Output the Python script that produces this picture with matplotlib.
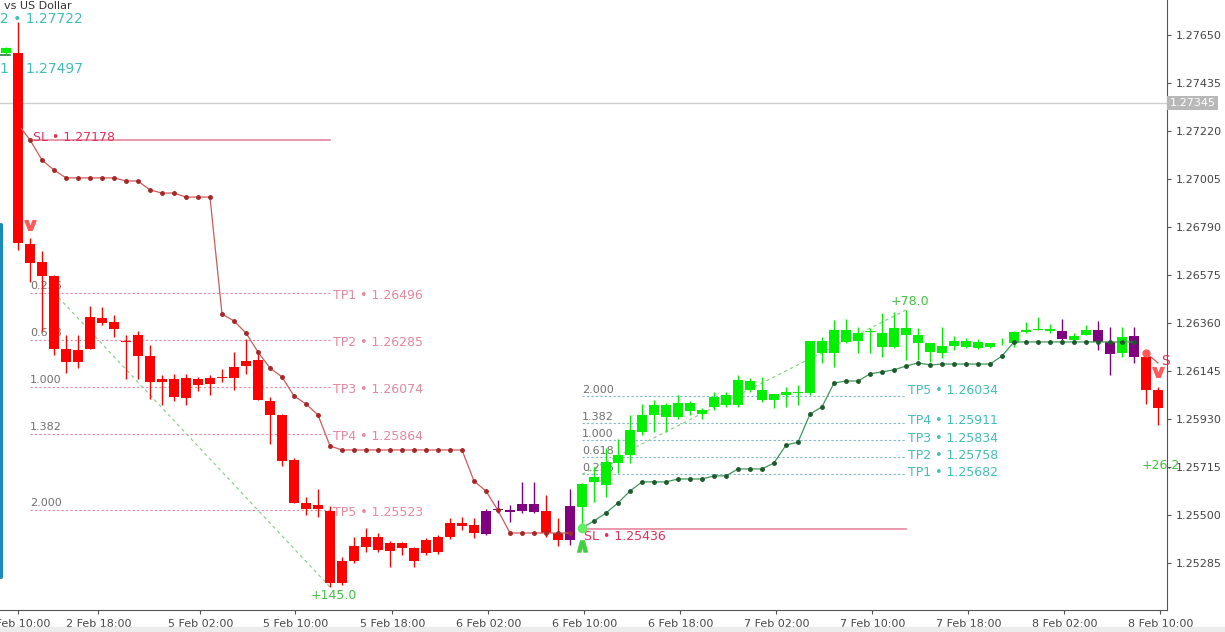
import matplotlib
matplotlib.use("Agg")
import matplotlib.pyplot as plt
import numpy as np

# ---- data ----
idx = list(range(-1, 96))
opens = [1.27570,1.27570,1.26714,1.26633,1.26571,1.26243,1.26239,1.26387,1.26382,1.26364,1.26279,1.26306,1.26212,1.26109,1.26109,1.26114,1.26109,1.26114,1.26118,1.26163,1.26190,1.26194,1.26011,1.25948,1.25746,1.25554,1.25545,1.25518,
         1.25195,1.25294,1.25356,1.25401,1.25374,1.25374,1.25352,1.25330,1.25334,1.25401,1.25450,1.25455,1.25415,1.25527,1.25522,1.25518,1.25549,1.25518,1.25419,1.25388,1.25536,1.25648,1.25634,1.25733,1.25769,1.25872,1.25948,1.25939,1.25939,1.25966,1.25952,1.25984,1.25993,1.25993,1.26060,1.26060,1.26042,1.26037,1.26046,1.26046,1.26226,1.26226,1.26275,1.26315,1.26320,1.26252,1.26252,1.26306,1.26270,1.26230,1.26226,1.26257,1.26252,1.26248,1.26252,1.26270,1.26270,1.26320,1.26329,1.26324,1.26324,1.26284,1.26306,1.26329,1.26275,1.26226,1.26302,1.26208,1.26060]
highs = [1.27596,1.27710,1.26741,1.26683,1.26575,1.26306,1.26306,1.26436,1.26432,1.26396,1.26306,1.26324,1.26261,1.26127,1.26132,1.26132,1.26118,1.26127,1.26154,1.26230,1.26288,1.26235,1.26029,1.25950,1.25755,1.25580,1.25616,1.25540,
         1.25312,1.25401,1.25442,1.25419,1.25383,1.25379,1.25356,1.25397,1.25410,1.25486,1.25491,1.25486,1.25527,1.25567,1.25545,1.25648,1.25648,1.25589,1.25486,1.25616,1.25643,1.25715,1.25800,1.25840,1.25948,1.25997,1.26015,1.26002,1.26037,1.26011,1.25979,1.26051,1.26051,1.26127,1.26114,1.26118,1.26042,1.26073,1.26082,1.26281,1.26297,1.26373,1.26378,1.26342,1.26338,1.26405,1.26409,1.26418,1.26338,1.26272,1.26342,1.26302,1.26293,1.26288,1.26272,1.26293,1.26322,1.26364,1.26387,1.26355,1.26378,1.26315,1.26351,1.26369,1.26342,1.26342,1.26342,1.26226,1.26073]
lows = [1.27565,1.26687,1.26544,1.26324,1.26217,1.26136,1.26158,1.26243,1.26351,1.26297,1.26109,1.26109,1.26019,1.25993,1.26011,1.25993,1.26055,1.26037,1.26096,1.26060,1.26132,1.26015,1.25818,1.25719,1.25554,1.25500,1.25491,1.25177,
         1.25186,1.25285,1.25334,1.25334,1.25267,1.25321,1.25267,1.25321,1.25325,1.25392,1.25433,1.25397,1.25410,1.25509,1.25468,1.25509,1.25509,1.25401,1.25361,1.25365,1.25442,1.25558,1.25580,1.25688,1.25733,1.25858,1.25872,1.25872,1.25930,1.25948,1.25930,1.25970,1.25984,1.25984,1.26051,1.26006,1.25979,1.25984,1.25993,1.26037,1.26181,1.26163,1.26270,1.26226,1.26226,1.26208,1.26250,1.26194,1.26194,1.26185,1.26203,1.26239,1.26248,1.26243,1.26248,1.26261,1.26252,1.26315,1.26329,1.26315,1.26284,1.26279,1.26304,1.26239,1.26127,1.26208,1.26181,1.25997,1.25903]
closes = [1.27592,1.26718,1.26629,1.26571,1.26243,1.26185,1.26185,1.26243,1.26360,1.26333,1.26275,1.26212,1.26096,1.26096,1.26029,1.26024,1.26082,1.26087,1.26114,1.26114,1.26167,1.26015,1.25948,1.25742,1.25554,1.25527,1.25527,1.25195,
         1.25294,1.25361,1.25401,1.25343,1.25338,1.25352,1.25294,1.25388,1.25401,1.25464,1.25464,1.25419,1.25518,1.25522,1.25513,1.25549,1.25513,1.25419,1.25388,1.25540,1.25639,1.25670,1.25737,1.25769,1.25881,1.25948,1.25993,1.25993,1.26002,1.26002,1.25970,1.26029,1.26037,1.26105,1.26100,1.26015,1.26015,1.26051,1.26051,1.26279,1.26279,1.26329,1.26329,1.26279,1.26322,1.26315,1.26338,1.26338,1.26306,1.26270,1.26257,1.26279,1.26279,1.26275,1.26270,1.26272,1.26320,1.26329,1.26333,1.26333,1.26288,1.26302,1.26329,1.26275,1.26221,1.26297,1.26208,1.26060,1.25979]
trend = ["g"] + ["r"]*39 + ["p"]*5 + ["r"]*2 + ["p"] + ["g"]*40 + ["p","g","g","p","p","g","p","r","r"]

sell_trail_idx = list(range(1, 47))
sell_trail = [1.27180,1.27090,1.27045,1.27010,1.27010,1.27010,1.27010,1.27010,1.26996,1.26996,1.26956,1.26942,1.26942,1.26924,1.26924,1.26924,
              1.26400,1.26369,1.26315,1.26230,1.26158,1.26118,1.26033,1.25997,1.25948,1.25809,1.25791,1.25791,1.25791,1.25791,1.25791,1.25791,
              1.25791,1.25791,1.25791,1.25791,1.25791,1.25652,1.25607,1.25520,1.25419,1.25419,1.25419,1.25419,1.25419,1.25419]
buy_trail_idx = list(range(47, 94))
buy_trail = [1.25442,1.25473,1.25509,1.25554,1.25607,1.25648,1.25648,1.25648,1.25661,1.25661,1.25661,1.25675,1.25675,1.25706,1.25706,1.25706,
             1.25733,1.25813,1.25826,1.25952,1.25984,1.26091,1.26100,1.26100,1.26132,1.26141,1.26150,1.26167,1.26181,1.26172,1.26176,1.26176,
             1.26176,1.26176,1.26176,1.26212,1.26275,1.26275,1.26275,1.26275,1.26275,1.26275,1.26275,1.26275,1.26275,1.26275,1.26275]

fib_ratios = ["0.236", "0.618", "1.000", "1.382", "2.000"]
sell_tp = [1.26496, 1.26285, 1.26074, 1.25864, 1.25523]
sell_sl = 1.27178
buy_tp = [1.25682, 1.25758, 1.25834, 1.25911, 1.26034]
buy_sl = 1.25436
current_price = 1.27345
yticks = [1.27650,1.27435,1.27220,1.27005,1.26790,1.26575,1.26360,1.26145,1.25930,1.25715,1.25500,1.25285]
xtick_pos = [0, 6.7, 15.2, 23.1, 31.2, 39.2, 47.2, 55.2, 63.2, 71.2, 79.2, 87.2, 95.2]
xtick_lab = ["2 Feb 10:00","2 Feb 18:00","5 Feb 02:00","5 Feb 10:00","5 Feb 18:00","6 Feb 02:00",
             "6 Feb 10:00","6 Feb 18:00","7 Feb 02:00","7 Feb 10:00","7 Feb 18:00","8 Feb 02:00","8 Feb 10:00"]

# ---- plot ----
fig = plt.figure(figsize=(12.25, 6.32), dpi=100)
ax = fig.add_axes([0.0, 0.0348, 1167/1225, 1 - 0.0348])
ax.set_xlim(-1.5, 95.75)
ax.set_ylim(1.25074, 1.27807)

cmap = {"r": "#ff0000", "g": "#00f000", "p": "#800080"}
for i, o, h, l, c, t in zip(idx, opens, highs, lows, closes, trend):
    col = cmap[t]
    ax.vlines(i, l, h, color=col, lw=1.0, zorder=4)
    b = min(o, c); ht = max(abs(c - o), 0.000025)
    ax.bar(i, ht, bottom=b, width=0.78, color=col, zorder=5, lw=0)

pink = "#e8869e"; crim = "#e0305a"; teal = "#3fbfb5"; gray = "#6f6f6f"
# current price
ax.axhline(current_price, color="#cfcfcf", lw=1, zorder=1)
ax.text(95.95, current_price, "1.27345", transform=ax.transData, fontsize=8, color="white",
        va="center", ha="left", bbox=dict(fc="#b8b8b8", ec="none", pad=1.5), clip_on=False)

# sell setup
for r, tp in zip(fib_ratios, sell_tp):
    ax.plot([1, 26], [tp, tp], ls=(0, (2, 2)), color=pink, lw=0.8, zorder=2)
    ax.text(1, tp + 0.00007, r, fontsize=8, color=gray, va="bottom", zorder=3)
for k, tp in enumerate(sell_tp):
    ax.text(26.25, tp - 0.00012, f"TP{k+1} • {tp:.5f}", fontsize=9, color=pink, va="center", zorder=3)
ax.plot([1, 26], [sell_sl, sell_sl], color=pink, lw=1.2, zorder=2)
ax.text(1.25, sell_sl + 0.00012, f"SL • {sell_sl:.5f}", fontsize=9, color=crim, va="center", zorder=6)
ax.plot([3, 26], [sell_tp[0], lows[27]], ls=(0, (3, 3)), color="#7fd07f", lw=0.8, zorder=2)
ax.text(24.4, 1.25140, "+145.0", fontsize=9, color="#40c040", va="center")
ax.plot([0.3] + sell_trail_idx, [1.27230] + sell_trail, color="#cf5a5a", lw=0.9, zorder=6)
ax.plot(sell_trail_idx, sell_trail, "o", color="#a42828", ms=2.5, zorder=7)
ax.plot(1, 1.26800, marker=r"$\mathbf{v}$", color="#ff5a5a", ms=8, zorder=7)

# buy setup
for r, tp in zip(fib_ratios, buy_tp):
    ax.plot([47, 74], [tp, tp], ls=(0, (2, 2)), color="#7fb8c8", lw=0.8, zorder=2)
    ax.text(47, tp + 0.00005, r, fontsize=8, color=gray, va="bottom", zorder=3)
for k, tp in enumerate(buy_tp):
    off = 0.00025 if k == 4 else 0.00010
    ax.text(74.2, tp + off, f"TP{k+1} • {tp:.5f}", fontsize=9, color=teal, va="center", zorder=3)
ax.plot([47, 74], [buy_sl, buy_sl], color=pink, lw=1.2, zorder=2)
ax.text(47.2, buy_sl - 0.00032, f"SL • {buy_sl:.5f}", fontsize=9, color=crim, va="center", zorder=6)
ax.plot([47, 74], [buy_tp[0], 1.26418], ls=(0, (3, 3)), color="#7fd07f", lw=0.8, zorder=2)
ax.text(72.7, 1.26455, "+78.0", fontsize=9, color="#40c040", va="center")
ax.plot(buy_trail_idx, buy_trail, color="#3f9a5a", lw=0.9, zorder=6)
ax.plot(buy_trail_idx, buy_trail, "o", color="#1d5a2d", ms=2.5, zorder=7)
ax.plot(47, buy_sl + 0.00006, "o", color="#60f060", ms=6, zorder=7)
ax.plot(47, 1.25363, marker=r"$\mathbf{\wedge}$", color="#40d040", ms=8, zorder=7)

# last sell start
ax.plot([94, 95], [1.26226, 1.26181], color="#cf5a5a", lw=0.9, zorder=6)
ax.plot(94, 1.26226, "o", color="#ff5a5a", ms=5, zorder=7)
ax.plot(95, 1.26140, marker=r"$\mathbf{v}$", color="#ff5a5a", ms=8, zorder=7)
ax.text(95.3, 1.26190, "S", fontsize=10, color=crim, va="center")
ax.text(93.6, 1.25720, "+26.2", fontsize=9, color="#40c040", va="center")

# top-left texts
ax.text(0.003, 0.999, "vs US Dollar", transform=ax.transAxes, fontsize=8, color="#333333", va="top")
ax.text(-1.5, 1.27722, "2 • 1.27722", fontsize=10, color=teal, va="center")
ax.text(-1.5, 1.27497, "1 • 1.27497", fontsize=10, color=teal, va="center", zorder=3)
ax.plot([-1.5, -0.7], [1.27560, 1.27560], color="#208040", lw=1.2)

# left blue bar
ax.plot([-1.45, -1.45], [1.25220, 1.26800], color="#1a8ab8", lw=3, solid_capstyle="round")

# axes style
for s in ["top", "left"]:
    ax.spines[s].set_visible(False)
ax.spines["right"].set_color("#555555")
ax.spines["bottom"].set_color("#555555")
ax.yaxis.tick_right()
ax.set_yticks(yticks)
ax.set_yticklabels([f"{v:.5f}" for v in yticks], fontsize=8, color="#444444")
ax.set_xticks(xtick_pos)
ax.set_xticklabels(xtick_lab, fontsize=8, color="#444444")
ax.tick_params(length=3, color="#555555")
fig.patches.append(plt.Rectangle((0, 0), 1, 0.008, transform=fig.transFigure, color="#ececec"))
fig.savefig("out.png", dpi=100)
